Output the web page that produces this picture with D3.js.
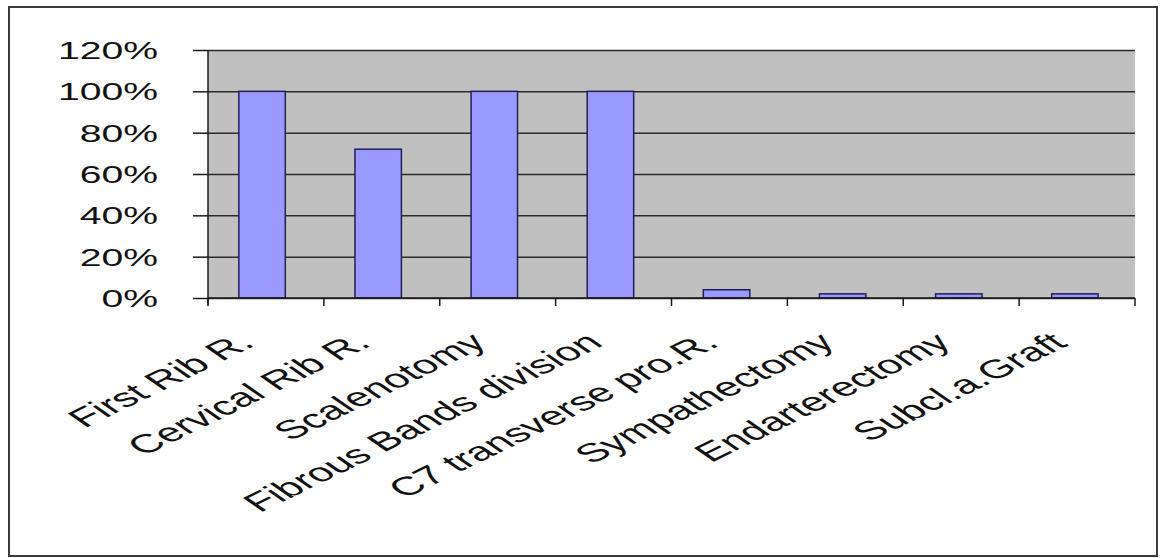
<!DOCTYPE html>
<html>
<head>
<meta charset="utf-8">
<script src="https://cdn.jsdelivr.net/npm/d3@7"></script>
<style>
  html, body { margin: 0; padding: 0; background: #ffffff; }
  svg { display: block; }
  text { font-family: "Liberation Sans", Arial, sans-serif; fill: #111; }
</style>
</head>
<body>
<svg id="chart" width="1160" height="558"></svg>
<script>
// Surgical procedures and the share of patients who had each one
const categories = [
  "First Rib R.",
  "Cervical Rib R.",
  "Scalenotomy",
  "Fibrous Bands division",
  "C7 transverse pro.R.",
  "Sympathectomy",
  "Endarterectomy",
  "Subcl.a.Graft"
];
const values = [1.00, 0.72, 1.00, 1.00, 0.04, 0.02, 0.02, 0.02];
const yTicks = [0, 0.2, 0.4, 0.6, 0.8, 1.0, 1.2];
const yTickLabels = ["0%", "20%", "40%", "60%", "80%", "100%", "120%"];

const svg = d3.select("#chart");
const W = 1160, H = 558;
const plot = { left: 208, right: 1135, top: 50, bottom: 298 };
const yStretch = 1.63;   // wide lettering on the value axis
const yFont = 24;
const xStretch = 1.72;   // wide lettering on the category labels
const xFont = 26;

// outer frame
svg.append("rect")
  .attr("x", 9).attr("y", 7)
  .attr("width", W - 12).attr("height", H - 9)
  .attr("fill", "#ffffff")
  .attr("stroke", "#3a3a3a")
  .attr("stroke-width", 2);

const x = d3.scaleBand()
  .domain(categories)
  .range([plot.left - 4, plot.right - 2])
  .paddingInner(0.6)
  .paddingOuter(0.3);

const y = d3.scaleLinear()
  .domain([0, 1.2])
  .range([plot.bottom, plot.top]);

// plot area background
svg.append("rect")
  .attr("x", plot.left).attr("y", plot.top)
  .attr("width", plot.right - plot.left)
  .attr("height", plot.bottom - plot.top)
  .attr("fill", "#c0c0c0");

// horizontal gridlines
svg.append("g")
  .attr("transform", `translate(${plot.left},0)`)
  .call(d3.axisLeft(y).tickValues(yTicks).tickSize(-(plot.right - plot.left)).tickFormat(""))
  .call(g => g.select(".domain").remove())
  .call(g => g.selectAll(".tick line").attr("stroke", "#2a2a2a").attr("stroke-width", 1.5));

// bars
svg.append("g")
  .selectAll("rect")
  .data(categories.map((c, i) => ({ c, v: values[i] })))
  .join("rect")
  .attr("x", d => x(d.c))
  .attr("y", d => y(d.v))
  .attr("width", x.bandwidth())
  .attr("height", d => y(0) - y(d.v))
  .attr("fill", "#9999ff")
  .attr("stroke", "#1f1f5c")
  .attr("stroke-width", 1.5);

// y axis with percentage labels
const yAxis = svg.append("g")
  .attr("transform", `translate(${plot.left},0)`)
  .call(d3.axisLeft(y).tickValues(yTicks).tickSize(15)
    .tickFormat((d, i) => yTickLabels[i]));
yAxis.select(".domain")
  .attr("d", `M0,${plot.top}V${plot.bottom + 7}`)
  .attr("stroke", "#1a1a1a").attr("stroke-width", 1.5);
yAxis.selectAll(".tick line").attr("stroke", "#1a1a1a").attr("stroke-width", 1.5);
yAxis.selectAll(".tick text")
  .attr("x", null)
  .attr("dy", "0.35em")
  .attr("transform", `translate(-50,0) scale(${yStretch},1)`)
  .style("font-size", yFont + "px")
  .style("font-family", "'Liberation Sans', Arial, sans-serif")
  .attr("fill", "#111");

// x axis baseline and category boundary ticks
const step = (plot.right - plot.left) / categories.length;
const bounds = d3.range(categories.length + 1).map(i => plot.left + i * step);
const xAxis = svg.append("g");
xAxis.append("line")
  .attr("x1", plot.left).attr("x2", plot.right)
  .attr("y1", y(0)).attr("y2", y(0))
  .attr("stroke", "#1a1a1a").attr("stroke-width", 1.5);
xAxis.selectAll("line.tick")
  .data(bounds)
  .join("line")
  .attr("class", "tick")
  .attr("x1", d => d).attr("x2", d => d)
  .attr("y1", y(0)).attr("y2", y(0) + 8)
  .attr("stroke", "#1a1a1a").attr("stroke-width", 1.5);

// slanted category labels
xAxis.selectAll("text")
  .data(categories)
  .join("text")
  .attr("text-anchor", "end")
  .attr("transform", d => `translate(${x(d) + x.bandwidth() / 2 - 6},${plot.bottom + 47}) scale(${xStretch},1) rotate(-40)`)
  .style("font-size", xFont + "px")
  .text(d => d);
</script>
</body>
</html>
